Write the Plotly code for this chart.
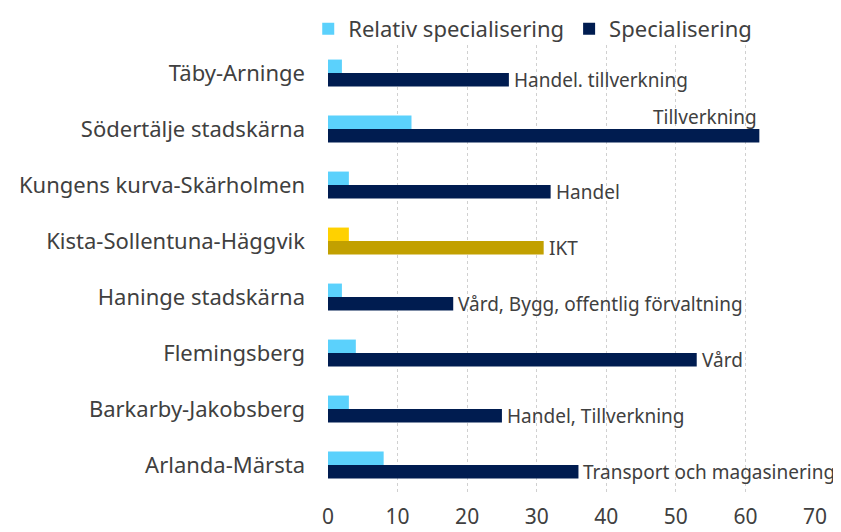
"""Specialisering per regional stadskärna - horisontellt stapeldiagram."""

import plotly.graph_objects as go

# Data (top to bottom as in the chart)
omraden = [
    "Täby-Arninge",
    "Södertälje stadskärna",
    "Kungens kurva-Skärholmen",
    "Kista-Sollentuna-Häggvik",
    "Haninge stadskärna",
    "Flemingsberg",
    "Barkarby-Jakobsberg",
    "Arlanda-Märsta",
]
relativ_specialisering = [2, 12, 3, 3, 2, 4, 3, 8]
specialisering = [26, 62, 32, 31, 18, 53, 25, 36]
branscher = [
    "Handel. tillverkning",
    "Tillverkning",
    "Handel",
    "IKT",
    "Vård, Bygg, offentlig förvaltning",
    "Vård",
    "Handel, Tillverkning",
    "Transport och magasinering",
]
x_ticks = [0, 10, 20, 30, 40, 50, 60, 70]

FONT = "Noto Sans"
TEXT_COLOR = "#404040"
LIGHT = "#5BD1FC"
DARK = "#001C50"
HIGHLIGHT = "Kista-Sollentuna-Häggvik"

light_colors = ["#FFD100" if o == HIGHLIGHT else LIGHT for o in omraden]
dark_colors = ["#C2A000" if o == HIGHLIGHT else DARK for o in omraden]

fig = go.Figure()
fig.add_trace(
    go.Bar(
        name="Relativ specialisering",
        y=omraden,
        x=relativ_specialisering,
        orientation="h",
        marker={"color": light_colors, "line": {"width": 0}},
    )
)
fig.add_trace(
    go.Bar(
        name="Specialisering",
        y=omraden,
        x=specialisering,
        orientation="h",
        marker={"color": dark_colors, "line": {"width": 0}},
    )
)

# Labels next to the dark bars (the long one sits above its bar end)
for omrade, value, label in zip(omraden, specialisering, branscher):
    if value > 55:
        fig.add_annotation(
            x=value, y=omrade, text=label, showarrow=False,
            xanchor="right", yanchor="middle", yshift=12,
            font={"family": FONT, "size": 19, "color": TEXT_COLOR},
        )
    else:
        fig.add_annotation(
            x=value, y=omrade, text=label, showarrow=False,
            xanchor="left", yanchor="middle", xshift=3, yshift=-7,
            font={"family": FONT, "size": 19, "color": TEXT_COLOR},
        )

fig.update_layout(
    width=841,
    height=532,
    barmode="group",
    bargap=0.52,
    bargroupgap=0,
    plot_bgcolor="white",
    paper_bgcolor="white",
    margin={"l": 320, "r": 34, "t": 37, "b": 47, "autoexpand": False},
    font={"family": FONT, "size": 21, "color": TEXT_COLOR},
    legend={
        "orientation": "h",
        "xref": "container",
        "yref": "container",
        "x": 0.357,
        "xanchor": "left",
        "y": 1.0,
        "yanchor": "top",
        "bgcolor": "rgba(0,0,0,0)",
        "font": {"family": FONT, "size": 22, "color": TEXT_COLOR},
        "traceorder": "normal",
    },
    showlegend=True,
)
fig.update_xaxes(
    range=[0, 70],
    tickvals=x_ticks,
    showgrid=True,
    gridcolor="#D0D0D0",
    griddash="dot",
    gridwidth=1,
    zeroline=False,
    showline=False,
    ticks="",
    ticklabelstandoff=9,
    tickfont={"size": 21},
)
fig.update_yaxes(
    autorange="reversed",
    showgrid=False,
    showline=False,
    ticks="",
    ticklabelstandoff=22,
    tickfont={"size": 22},
)

fig.write_html("out.html")
